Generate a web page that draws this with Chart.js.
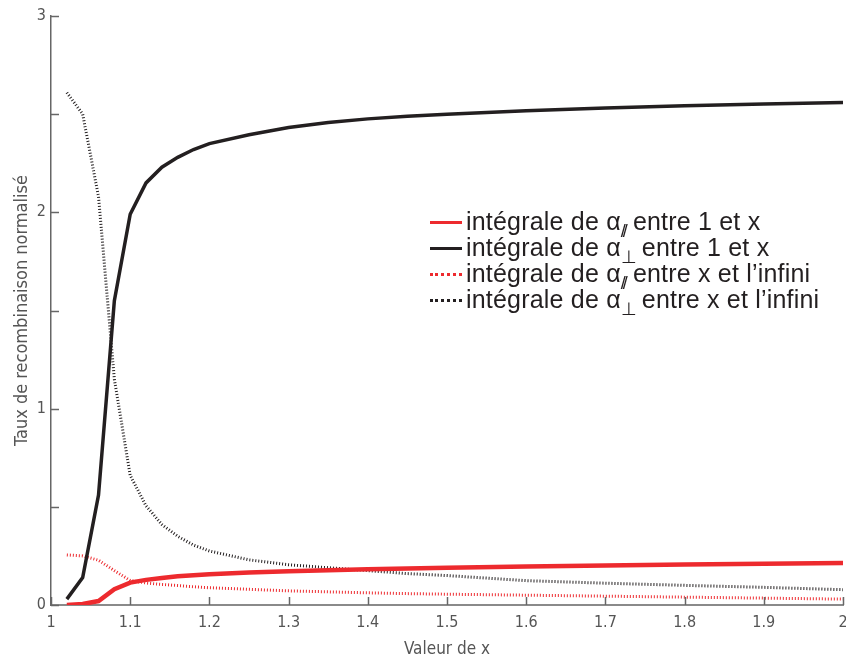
<!DOCTYPE html>
<html>
<head>
<meta charset="utf-8">
<script src="https://cdn.jsdelivr.net/npm/chart.js@4/dist/chart.umd.min.js"></script>
<style>
    html, body { margin: 0; padding: 0; background: #fff; }
    #wrap { position: relative; width: 846px; height: 663px; }
    #legend {
        position: absolute;
        left: 430px;
        top: 208px;
        font-family: "Liberation Sans", Arial, sans-serif;
        font-size: 25px;
        color: #231f20;
        line-height: 26px;
        letter-spacing: 0.2px;
    }
    .row { display: flex; align-items: center; white-space: nowrap; height: 26px; }
    .swatch { width: 32px; height: 0; margin-right: 4px; margin-top: 2px; }
    sub { font-size: 18px; line-height: 0; vertical-align: -7px; letter-spacing: -3px; margin-right: 8px; }
</style>
</head>
<body>
<div id="wrap">
    <canvas id="chart" width="846" height="663"></canvas>
    <div id="legend"></div>
</div>
<script>
// x values (Valeur de x)
const xValues = [1.02, 1.04, 1.06, 1.08, 1.10, 1.12, 1.14, 1.16, 1.18, 1.20,
    1.25, 1.30, 1.35, 1.40, 1.45, 1.50, 1.60, 1.70, 1.80, 1.90, 2.00];

// integral of alpha-parallel from 1 to x
const paraFrom1 = [0.0, 0.005, 0.02, 0.08, 0.114, 0.128, 0.138, 0.146, 0.152, 0.157,
    0.165, 0.172, 0.177, 0.182, 0.186, 0.19, 0.196, 0.201, 0.206, 0.21, 0.214];
// integral of alpha-perp from 1 to x
const perpFrom1 = [0.03, 0.14, 0.56, 1.55, 1.99, 2.15, 2.23, 2.28, 2.32, 2.35,
    2.395, 2.432, 2.458, 2.476, 2.49, 2.50, 2.518, 2.532, 2.543, 2.552, 2.559];
// integral of alpha-parallel from x to infinity
const paraToInf = [0.255, 0.25, 0.228, 0.175, 0.125, 0.112, 0.105, 0.099, 0.093, 0.088,
    0.08, 0.072, 0.067, 0.062, 0.058, 0.055, 0.05, 0.045, 0.04, 0.035, 0.03];
// integral of alpha-perp from x to infinity
const perpToInf = [2.61, 2.50, 2.08, 1.15, 0.66, 0.505, 0.41, 0.35, 0.305, 0.275,
    0.23, 0.205, 0.19, 0.175, 0.16, 0.15, 0.124, 0.111, 0.1, 0.09, 0.078];

const xTicks = [1, 1.1, 1.2, 1.3, 1.4, 1.5, 1.6, 1.7, 1.8, 1.9, 2];
const yTicks = [0, 0.5, 1, 1.5, 2, 2.5, 3];

const RED = '#ed2a2e';
const BLACK = '#231f20';

const legendHtml = [
    'intégrale de α<sub>//</sub>entre 1 et x',
    'intégrale de α<sub>⊥</sub>entre 1 et x',
    'intégrale de α<sub>//</sub>entre x et l’infini',
    'intégrale de α<sub>⊥</sub>entre x et l’infini'
];

const toPoints = ys => xValues.map((x, i) => ({ x: x, y: ys[i] }));

const series = [
    { data: paraFrom1, color: RED, width: 4.5, dash: [] },
    { data: perpFrom1, color: BLACK, width: 3.5, dash: [] },
    { data: paraToInf, color: RED, width: 3, dash: [1, 2] },
    { data: perpToInf, color: BLACK, width: 3, dash: [1, 2] }
];

const tickFont = { family: '"Liberation Sans Narrow", "DejaVu Sans Condensed", sans-serif', size: 16 };

// inward tick marks, like the original figure
const inwardTicks = {
    id: 'inwardTicks',
    afterDraw(chart) {
        const c = chart.ctx;
        const xs = chart.scales.x, ys = chart.scales.y;
        c.save();
        c.strokeStyle = '#666';
        c.lineWidth = 1.5;
        xTicks.forEach(v => {
            const px = Math.round(xs.getPixelForValue(v)) + 0.5;
            c.beginPath();
            c.moveTo(px, ys.bottom);
            c.lineTo(px, ys.bottom - 8);
            c.stroke();
        });
        yTicks.forEach(v => {
            const py = Math.round(ys.getPixelForValue(v)) + 0.5;
            c.beginPath();
            c.moveTo(xs.left, py);
            c.lineTo(xs.left + 8, py);
            c.stroke();
        });
        c.restore();
    }
};

const chart = new Chart(document.getElementById('chart'), {
    type: 'line',
    data: {
        datasets: series.map((s, i) => ({
            label: 'serie' + i,
            data: toPoints(s.data),
            borderColor: s.color,
            borderWidth: s.width,
            borderDash: s.dash,
            pointRadius: 0,
            tension: 0,
            fill: false
        }))
    },
    options: {
        responsive: false,
        animation: false,
        layout: { padding: { top: 16, right: 3, left: 0, bottom: 0 } },
        plugins: { legend: { display: false }, tooltip: { enabled: false } },
        scales: {
            x: {
                type: 'linear',
                min: 1,
                max: 2,
                afterFit: s => { s.height = 58; s.paddingLeft = 0; s.paddingRight = 0; },
                afterBuildTicks: s => { s.ticks = xTicks.map(v => ({ value: v })); },
                grid: { display: false, drawTicks: false },
                border: { display: true, color: '#8a8a8a', width: 2 },
                ticks: {
                    padding: 8,
                    color: '#555',
                    font: tickFont,
                    maxRotation: 0,
                    callback: v => String(Number(v.toFixed(1)))
                },
                title: {
                    display: true,
                    text: 'Valeur de x',
                    color: '#555',
                    font: { family: tickFont.family, size: 17 },
                    padding: { top: 0, bottom: 3 }
                }
            },
            y: {
                min: 0,
                max: 3,
                afterFit: s => { s.width = 51; s.paddingTop = 0; s.paddingBottom = 0; },
                afterBuildTicks: s => { s.ticks = yTicks.map(v => ({ value: v })); },
                grid: { display: false, drawTicks: false },
                border: { display: true, color: '#666', width: 1.5 },
                ticks: {
                    padding: 5,
                    color: '#555',
                    font: tickFont,
                    callback: v => (Number.isInteger(v) ? String(v) : '')
                },
                title: {
                    display: true,
                    text: 'Taux de recombinaison normalisé',
                    color: '#555',
                    font: { family: tickFont.family, size: 18 },
                    padding: { top: 12, bottom: 0 }
                }
            }
        }
    },
    plugins: [inwardTicks]
});

// HTML legend so the alpha subscripts stay real text
const legend = document.getElementById('legend');
series.forEach((s, i) => {
    const row = document.createElement('div');
    row.className = 'row';
    const sw = document.createElement('span');
    sw.className = 'swatch';
    sw.style.borderTop = s.dash.length ? `3px dotted ${s.color}` : `3px solid ${s.color}`;
    const label = document.createElement('span');
    label.innerHTML = legendHtml[i];
    row.appendChild(sw);
    row.appendChild(label);
    legend.appendChild(row);
});
</script>
</body>
</html>
